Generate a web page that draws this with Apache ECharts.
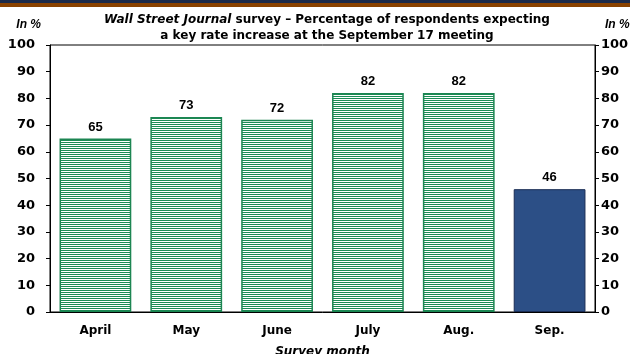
<!DOCTYPE html>
<html>
<head>
<meta charset="utf-8">
<script src="https://cdn.jsdelivr.net/npm/echarts@6/dist/echarts.min.js"></script>
<style>
  body { margin: 0; background: #fff; }
  #topBand { position: absolute; left: 0; top: 0; width: 630px; height: 3px; background: #1b2a4a; }
  #topBand2 { position: absolute; left: 0; top: 3px; width: 630px; height: 4px; background: #8a4200; }
  #chart { width: 630px; height: 354px; }
</style>
</head>
<body>
<div id="chart"></div>
<div id="topBand"></div>
<div id="topBand2"></div>
<script>
  var months = ['April', 'May', 'June', 'July', 'Aug.', 'Sep.']
  var expecting = [65, 73, 72, 82, 82, 46]
  var yTicks = [0, 10, 20, 30, 40, 50, 60, 70, 80, 90, 100]

  // horizontal stripes for the older months
  var cv = document.createElement('canvas')
  cv.width = 4
  cv.height = 2
  var ctx = cv.getContext('2d')
  ctx.fillStyle = '#ffffff'
  ctx.fillRect(0, 0, 4, 2)
  ctx.fillStyle = '#1b8c55'
  ctx.fillRect(0, 0, 4, 1)

  var barData = expecting.map(function (v, i) {
    if (i === expecting.length - 1) {
      return { value: v, itemStyle: { color: '#2c4f86', borderColor: '#1a2d55', borderWidth: 1 } }
    }
    return { value: v, itemStyle: { color: { image: cv, repeat: 'repeat' }, borderColor: '#1c8552', borderWidth: 1.5 } }
  })

  var font = 'Liberation Sans, Arial, sans-serif'
  var wide = 'DejaVu Sans, sans-serif'
  var yAxisBase = {
    type: 'value',
    min: 0,
    max: 100,
    interval: 10,
    axisLine: { show: true, lineStyle: { color: '#000', width: 1 } },
    axisTick: { show: true, length: 4, lineStyle: { color: '#000' } },
    splitLine: { show: false },
    nameGap: 14,
    nameTextStyle: { fontFamily: font, fontSize: 12, fontWeight: 'bold', fontStyle: 'italic', color: '#000' },
    axisLabel: {
      fontFamily: wide, fontSize: 13, fontWeight: 'bold', color: '#000',
      formatter: function (v) { return yTicks.indexOf(v) >= 0 ? String(v) : '' }
    }
  }

  var mychar = echarts.init(document.getElementById('chart'))
  mychar.setOption({
    animation: false,
    title: {
      text: '{i|Wall Street Journal} survey – Percentage of respondents expecting\na key rate increase at the September 17 meeting',
      left: 327,
      top: 12,
      padding: 0,
      textAlign: 'center',
      textStyle: {
        fontFamily: wide, fontSize: 12, fontWeight: 'bold', color: '#000', lineHeight: 16,
        rich: { i: { fontFamily: wide, fontSize: 12, fontWeight: 'bold', fontStyle: 'italic', color: '#000', lineHeight: 16 } }
      }
    },
    grid: {
      left: 50, right: 35, top: 45, bottom: 42,
      containLabel: false, outerBoundsMode: 'none',
      show: true, borderColor: '#000', borderWidth: 1
    },
    xAxis: {
      type: 'category',
      data: months,
      name: 'Survey month',
      nameLocation: 'middle',
      nameGap: 34,
      nameTextStyle: { fontFamily: wide, fontSize: 12, fontWeight: 'bold', fontStyle: 'italic', color: '#000' },
      axisLine: { lineStyle: { color: '#000' } },
      axisTick: { show: false },
      axisLabel: { fontFamily: wide, fontSize: 12, fontWeight: 'bold', color: '#000', margin: 13 }
    },
    yAxis: [
      Object.assign({}, yAxisBase, {
        position: 'left', name: 'In %',
        axisLabel: Object.assign({}, yAxisBase.axisLabel, { margin: 15 }),
        nameTextStyle: Object.assign({}, yAxisBase.nameTextStyle, { align: 'right', padding: [0, 9, 0, 0] })
      }),
      Object.assign({}, yAxisBase, {
        position: 'right', name: 'In %',
        axisLabel: Object.assign({}, yAxisBase.axisLabel, { margin: 6 }),
        nameTextStyle: Object.assign({}, yAxisBase.nameTextStyle, { align: 'left', padding: [0, 0, 0, 10] })
      })
    ],
    series: [
      {
        type: 'bar',
        data: barData,
        barWidth: '79%',
        label: {
          show: true, position: 'top', distance: 5,
          fontFamily: font, fontSize: 13, fontWeight: 'bold', color: '#000'
        }
      }
    ]
  })
</script>
</body>
</html>
